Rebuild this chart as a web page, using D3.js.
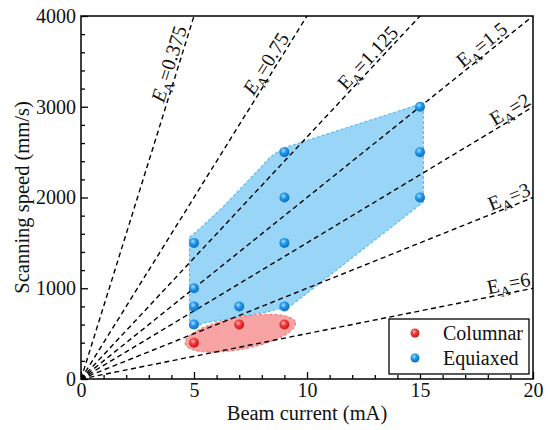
<!DOCTYPE html>
<html>
<head>
<meta charset="utf-8">
<script src="https://cdn.jsdelivr.net/npm/d3@7"></script>
<style>
body { margin: 0; background: #fff; }
text { font-family: "Liberation Serif", "Times New Roman", serif; fill: #111; }
</style>
</head>
<body>
<div id="chart"></div>
<script>
// E_A = 300 * I / v  ->  v = 300 * I / E_A
const energyLevels = [0.375, 0.75, 1.125, 1.5, 2, 3, 6];
const labelCurrent = [4.3, 8.55, 13.0, 18.0, 19.2, 19.1, 19.0];
const labelItalic = [true, true, false, false, false, false, false];

const columnarCurrent = [5, 7, 9];
const columnarSpeed = [400, 600, 600];

const equiaxedCurrent = [5, 5, 5, 5, 7, 9, 9, 9, 9, 15, 15, 15];
const equiaxedSpeed = [600, 800, 1000, 1500, 800, 800, 1500, 2000, 2500, 2000, 2500, 3000];

// outline of the equiaxed region
const hullCurrent = [4.8, 5.4, 6.3, 7.3, 8.36, 8.9, 15.15, 15.15, 9.3, 8.2, 6.9, 5.4, 4.8];
const hullSpeed = [1560, 1690, 1900, 2160, 2440, 2540, 3040, 1950, 810, 736, 681, 615, 560];

const xTicks = [0, 5, 10, 15, 20];
const yTicks = [0, 1000, 2000, 3000, 4000];

const width = 550, height = 430;
const margin = { top: 16, right: 17, bottom: 51, left: 81 };

const svg = d3.select("#chart").append("svg")
    .attr("width", width)
    .attr("height", height);

const x = d3.scaleLinear().domain([0, 20]).range([margin.left, width - margin.right]);
const y = d3.scaleLinear().domain([0, 4000]).range([height - margin.bottom, margin.top]);

const defs = svg.append("defs");
defs.append("clipPath").attr("id", "plot-clip")
    .append("rect")
    .attr("x", margin.left).attr("y", margin.top)
    .attr("width", x(20) - x(0)).attr("height", y(0) - y(4000));

function ball(id, light, base, dark) {
    const g = defs.append("radialGradient").attr("id", id)
        .attr("cx", "0.4").attr("cy", "0.35").attr("r", "0.65");
    g.append("stop").attr("offset", "0%").attr("stop-color", light);
    g.append("stop").attr("offset", "45%").attr("stop-color", base);
    g.append("stop").attr("offset", "100%").attr("stop-color", dark);
}
ball("ball-red", "#ffb0b0", "#f03a3a", "#c81818");
ball("ball-blue", "#a8dcff", "#2196ea", "#0c6fc0");

const plot = svg.append("g").attr("clip-path", "url(#plot-clip)");

// equiaxed region
const hull = hullCurrent.map((c, i) => [x(c), y(hullSpeed[i])]);
plot.append("path")
    .attr("d", d3.line().curve(d3.curveLinearClosed)(hull))
    .attr("fill", "#98d5f7")
    .attr("stroke", "#5bbdf0")
    .attr("stroke-width", 1.2)
    .attr("stroke-dasharray", "3,2");

// columnar region
const ell = { c: 7.05, v: 505, a: 2.48, angle: -10.8, ry: 16 };
plot.append("ellipse")
    .attr("transform", `translate(${x(ell.c)},${y(ell.v)}) rotate(${ell.angle})`)
    .attr("rx", x(ell.c + ell.a) - x(ell.c))
    .attr("ry", ell.ry)
    .attr("fill", "#f7a3a3")
    .attr("stroke", "#f27d7d")
    .attr("stroke-width", 1.2)
    .attr("stroke-dasharray", "3,2");

// iso-energy lines
energyLevels.forEach(e => {
    plot.append("line")
        .attr("x1", x(0)).attr("y1", y(0))
        .attr("x2", x(20)).attr("y2", y(300 * 20 / e))
        .attr("stroke", "#000")
        .attr("stroke-width", 1.4)
        .attr("stroke-dasharray", "5,3.5");
});

// line labels
energyLevels.forEach((e, i) => {
    const c = labelCurrent[i];
    const px = x(c), py = y(300 * c / e);
    const angle = Math.atan2(y(300 * 20 / e) - y(0), x(20) - x(0)) * 180 / Math.PI;
    const t = svg.append("text")
        .attr("transform", `translate(${px},${py}) rotate(${angle})`)
        .attr("text-anchor", "middle")
        .attr("dy", -3)
        .attr("font-size", 20);
    t.append("tspan").attr("font-style", labelItalic[i] ? "italic" : "normal").text("E");
    t.append("tspan").attr("font-size", 14).attr("dy", 5).text("A");
    t.append("tspan").attr("dy", -5).text("=" + e);
});

// points
const pts = svg.append("g");
pts.selectAll(".col").data(columnarCurrent).join("circle")
    .attr("cx", d => x(d))
    .attr("cy", (d, i) => y(columnarSpeed[i]))
    .attr("r", 5)
    .attr("fill", "url(#ball-red)");
pts.selectAll(".eq").data(equiaxedCurrent).join("circle")
    .attr("cx", d => x(d))
    .attr("cy", (d, i) => y(equiaxedSpeed[i]))
    .attr("r", 5)
    .attr("fill", "url(#ball-blue)");

// axes
const xAxis = svg.append("g")
    .attr("transform", `translate(0,${y(0)})`)
    .call(d3.axisBottom(x).tickValues(d3.range(0, 21, 1)).tickSize(-4).tickFormat(""));
xAxis.call(g => g.select(".domain").remove());
xAxis.selectAll(".tick line")
    .attr("y2", d => xTicks.includes(d) ? -7 : -4)
    .attr("stroke-width", 1.3);
svg.append("g")
    .attr("transform", `translate(0,${y(0)})`)
    .call(d3.axisBottom(x).tickValues(xTicks).tickSize(0).tickPadding(4).tickFormat(d3.format("d")))
    .call(g => g.select(".domain").remove())
    .selectAll("text")
    .attr("font-size", 20)
    .attr("font-family", "Liberation Serif");

const yAxis = svg.append("g")
    .attr("transform", `translate(${x(0)},0)`)
    .call(d3.axisLeft(y).tickValues(d3.range(0, 4001, 200)).tickSize(-4).tickFormat(""));
yAxis.call(g => g.select(".domain").remove());
yAxis.selectAll(".tick line")
    .attr("x2", d => yTicks.includes(d) ? 7 : 4)
    .attr("stroke-width", 1.3);
svg.append("g")
    .attr("transform", `translate(${x(0)},0)`)
    .call(d3.axisLeft(y).tickValues(yTicks).tickSize(0).tickPadding(5).tickFormat(d3.format("d")))
    .call(g => g.select(".domain").remove())
    .selectAll("text")
    .attr("font-size", 20)
    .attr("font-family", "Liberation Serif");

// frame
svg.append("rect")
    .attr("x", x(0)).attr("y", y(4000))
    .attr("width", x(20) - x(0)).attr("height", y(0) - y(4000))
    .attr("fill", "none")
    .attr("stroke", "#000")
    .attr("stroke-width", 1.5);

// axis titles
svg.append("text")
    .attr("x", (x(0) + x(20)) / 2)
    .attr("y", 420)
    .attr("text-anchor", "middle")
    .attr("font-size", 20.5)
    .text("Beam current (mA)");
svg.append("text")
    .attr("transform", `translate(29,${(y(0) + y(4000)) / 2}) rotate(-90)`)
    .attr("text-anchor", "middle")
    .attr("font-size", 20.5)
    .text("Scanning speed (mm/s)");

// legend
const legend = svg.append("g").attr("transform", "translate(389,319)");
legend.append("rect")
    .attr("width", 140).attr("height", 55)
    .attr("fill", "#fff")
    .attr("stroke", "#000")
    .attr("stroke-width", 1.3);
[["Columnar", "url(#ball-red)"], ["Equiaxed", "url(#ball-blue)"]].forEach(([name, fill], i) => {
    legend.append("circle")
        .attr("cx", 26).attr("cy", 14 + i * 25)
        .attr("r", 4.5)
        .attr("fill", fill);
    legend.append("text")
        .attr("x", 54).attr("y", 14 + i * 25)
        .attr("dy", "0.35em")
        .attr("font-size", 20)
        .text(name);
});
</script>
</body>
</html>
